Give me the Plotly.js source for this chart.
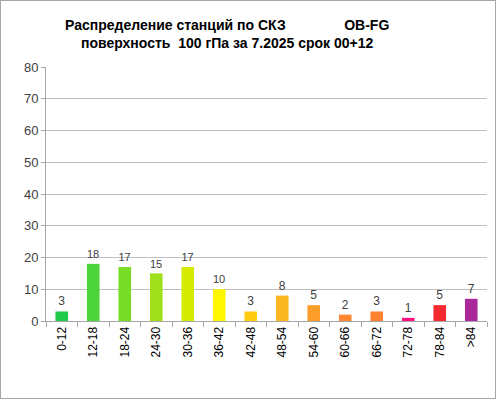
<!DOCTYPE html>
<html>
<head>
<meta charset="utf-8">
<script src="https://cdn.plot.ly/plotly-3.0.1.min.js"></script>
<style>
html,body{margin:0;padding:0;background:#fff;}
#wrap{width:496px;height:399px;box-sizing:border-box;border:1px solid #a6a6a6;overflow:hidden;}
#chart{width:494px;height:397px;}
</style>
</head>
<body>
<div id="wrap"><div id="chart"></div></div>
<script>
const categories = ["0-12","12-18","18-24","24-30","30-36","36-42","42-48","48-54","54-60","60-66","66-72","72-78","78-84",">84"];
const counts = [3,18,17,15,17,10,3,8,5,2,3,1,5,7];
const barColors = ["#22c94a","#4cd43a","#77dd27","#a0e01a","#d4ea00","#fff700","#ffcc11","#fbb820","#fd9e2a","#ff8833","#ff8230","#ff1080","#f52a30","#aa2899"];
const yTicks = [0,10,20,30,40,50,60,70,80];
const titleLine1 = "Распределение станций по СКЗ\u00a0\u00a0\u00a0\u00a0\u00a0\u00a0\u00a0\u00a0\u00a0\u00a0\u00a0\u00a0\u00a0\u00a0\u00a0OB-FG";
const titleLine2 = "поверхность\u00a0\u00a0100 гПа за 7.2025 срок 00+12";

const font = "Liberation Sans, Arial, sans-serif";
const labelFont = {family: font, size: 12, color: "#404040"};

Plotly.newPlot("chart", [{
  type: "bar",
  x: categories,
  y: counts,
  marker: {color: barColors},
  text: counts.map(String),
  textposition: "outside",
  cliponaxis: false,
  textfont: labelFont,
  outsidetextfont: labelFont,
  width: 0.4,
  hoverinfo: "x+y"
}], {
  width: 494, height: 397,
  margin: {l: 45, r: 8, t: 66, b: 77},
  paper_bgcolor: "#fff", plot_bgcolor: "#fff",
  showlegend: false,
  font: {family: font, color: "#404040"},
  annotations: [{
    xref: "paper", yref: "paper", x: 0.41, y: 1, yanchor: "bottom", xanchor: "center",
    yshift: 14, showarrow: false, align: "center",
    text: "<b>" + titleLine1 + "</b><br><b>" + titleLine2 + "</b>",
    font: {family: font, size: 14, color: "#000"}
  }],
  xaxis: {
    type: "category",
    tickangle: -90,
    tickfont: {family: font, size: 12, color: "#000"},
    showline: true, linecolor: "#a6a6a6", linewidth: 1,
    ticks: "outside", tickson: "boundaries", ticklen: 5, tickcolor: "#a6a6a6",
    showgrid: false, fixedrange: true
  },
  yaxis: {
    range: [0, 80],
    tickvals: yTicks,
    tickfont: {family: font, size: 13, color: "#404040"},
    showline: true, linecolor: "#a6a6a6", linewidth: 1,
    ticks: "outside", ticklen: 4, tickcolor: "#a6a6a6",
    showgrid: true, gridcolor: "#bfbfbf", gridwidth: 1,
    zeroline: false, fixedrange: true
  }
}, {displayModeBar: false, staticPlot: true});
</script>
</body>
</html>
